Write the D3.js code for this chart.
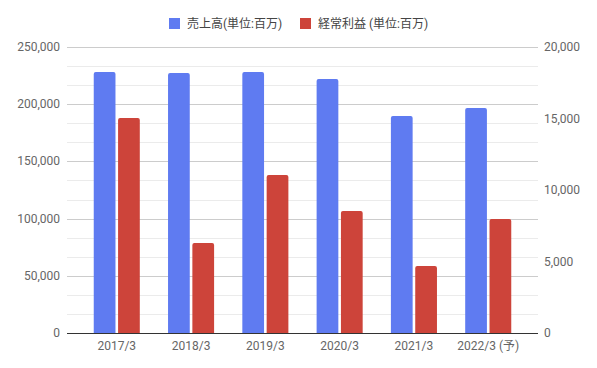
<!DOCTYPE html>
<html>
<head>
<meta charset="utf-8">
<script src="https://cdn.jsdelivr.net/npm/d3@7"></script>
<style>
  body { margin: 0; background: #fff; }
  text { font-family: Roboto, "Noto Sans CJK JP", sans-serif; }
</style>
</head>
<body>
<svg id="chart" width="597" height="368"></svg>
<script>
var categories = ["2017/3", "2018/3", "2019/3", "2020/3", "2021/3", "2022/3 (予)"];
var sales = [228100, 227300, 228100, 222000, 189700, 196700];
var profit = [15040, 6290, 11050, 8530, 4690, 7970];
var leftTicks = [0, 50000, 100000, 150000, 200000, 250000];
var rightTicks = [0, 5000, 10000, 15000, 20000];
var seriesNames = ["売上高(単位:百万)", "経常利益 (単位:百万)"];
var colors = ["#5f7bf1", "#cd443a"];

var svg = d3.select("#chart"),
    plotLeft = 67, plotRight = 538, plotTop = 47, plotBottom = 333;

var x = d3.scaleBand()
    .domain(categories)
    .range([plotLeft, plotRight])
    .paddingInner(0.38)
    .paddingOuter(0.36);

var xSub = d3.scaleBand()
    .domain([0, 1])
    .range([0, x.bandwidth()])
    .paddingInner(0.107);

var yLeft = d3.scaleLinear().domain([0, 250000]).range([plotBottom, plotTop]);
var yRight = d3.scaleLinear().domain([0, 20000]).range([plotBottom, plotTop]);

// gridlines: minor every third of a major step
var minor = d3.range(0, 250001, 50000 / 3);
svg.append("g").selectAll("line")
    .data(minor)
    .enter().append("line")
    .attr("x1", plotLeft).attr("x2", plotRight)
    .attr("y1", function(d) { return Math.round(yLeft(d)) + 0.5; })
    .attr("y2", function(d) { return Math.round(yLeft(d)) + 0.5; })
    .attr("stroke", function(d, i) { return i % 3 == 0 ? "#cccccc" : "#ebebeb"; })
    .attr("stroke-width", 1);

// bars with rounded tops
function barPath(x0, w, y0, y1) {
  var r = 2;
  return "M" + x0 + "," + y0 +
    "V" + (y1 + r) +
    "Q" + x0 + "," + y1 + " " + (x0 + r) + "," + y1 +
    "H" + (x0 + w - r) +
    "Q" + (x0 + w) + "," + y1 + " " + (x0 + w) + "," + (y1 + r) +
    "V" + y0 + "Z";
}

var groups = svg.append("g").selectAll("g")
    .data(categories)
    .enter().append("g")
    .attr("transform", function(d) { return "translate(" + x(d) + ",0)"; });

groups.append("path")
    .attr("fill", colors[0])
    .attr("d", function(d, i) { return barPath(xSub(0), xSub.bandwidth(), plotBottom, yLeft(sales[i])); });

groups.append("path")
    .attr("fill", colors[1])
    .attr("d", function(d, i) { return barPath(xSub(1), xSub.bandwidth(), plotBottom, yRight(profit[i])); });

// baseline
svg.append("line")
    .attr("x1", plotLeft).attr("x2", plotRight)
    .attr("y1", plotBottom + 0.5).attr("y2", plotBottom + 0.5)
    .attr("stroke", "#333");

var fmt = d3.format(",");

svg.append("g").selectAll("text")
    .data(leftTicks)
    .enter().append("text")
    .attr("x", 60)
    .attr("y", function(d) { return yLeft(d) + 4; })
    .attr("text-anchor", "end")
    .attr("font-size", 12)
    .attr("fill", "#666")
    .text(fmt);

svg.append("g").selectAll("text")
    .data(rightTicks)
    .enter().append("text")
    .attr("x", 544)
    .attr("y", function(d) { return yRight(d) + 4; })
    .attr("font-size", 12)
    .attr("fill", "#666")
    .text(fmt);

svg.append("g").selectAll("text")
    .data(categories)
    .enter().append("text")
    .attr("x", function(d) { return x(d) + x.bandwidth() / 2; })
    .attr("y", 350)
    .attr("text-anchor", "middle")
    .attr("font-size", 12)
    .attr("fill", "#666")
    .text(function(d) { return d; });

// legend
var legendX = [169, 300];
var legend = svg.append("g").selectAll("g")
    .data(seriesNames)
    .enter().append("g")
    .attr("transform", function(d, i) { return "translate(" + legendX[i] + ",18)"; });

legend.append("rect")
    .attr("width", 11).attr("height", 11)
    .attr("fill", function(d, i) { return colors[i]; });

legend.append("text")
    .attr("x", 18).attr("y", 10)
    .attr("font-size", 12)
    .attr("fill", "#444")
    .text(function(d) { return d; });
</script>
</body>
</html>
